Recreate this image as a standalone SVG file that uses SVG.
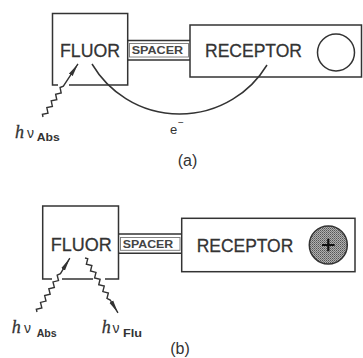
<svg xmlns="http://www.w3.org/2000/svg" width="363" height="358" viewBox="0 0 363 358">
<style>
.box{fill:none;stroke:#333;stroke-width:1.5}
.thin{fill:none;stroke:#777;stroke-width:0.9}
.ln{fill:none;stroke:#333;stroke-width:1.5}
.wave{fill:none;stroke:#333;stroke-width:1.4;stroke-linejoin:miter;marker-end:url(#arr)}
.big{font-family:"Liberation Sans",Arial,sans-serif;font-size:19px;fill:#333;stroke:#333;stroke-width:0.3}
.sp{font-family:"Liberation Sans",Arial,sans-serif;font-size:11px;font-weight:bold;fill:#444}
.lab{font-family:"Liberation Sans",Arial,sans-serif;fill:#333}
.h{font-family:"Liberation Serif","Times New Roman",serif;font-style:italic;font-size:18px;fill:#333;stroke:#333;stroke-width:0.3}
</style>
<defs>
<marker id="arr" markerUnits="userSpaceOnUse" markerWidth="14" markerHeight="6" refX="13" refY="3" orient="auto">
<path d="M0,0.8 L13,3 L0,5.2 Z" fill="#333"/>
</marker>
<pattern id="dots" width="2" height="2" patternUnits="userSpaceOnUse">
<rect width="2" height="2" fill="#b0b0b0"/>
<rect width="1" height="1" fill="#555"/>
<rect x="1" y="1" width="1" height="1" fill="#777"/>
</pattern>
</defs>

<!-- Panel (a) -->
<g id="fluor-a">
<path class="box" d="M58,85 L52.5,85 L52.5,13.5 L127.7,13.5 L127.7,85 L69,85"/>
<text class="big" x="60" y="56.5" textLength="60" lengthAdjust="spacingAndGlyphs">FLUOR</text>
</g>
<g id="spacer-a">
<path class="box" d="M127.7,40.5 H190 M127.7,60 H190"/>
<rect class="thin" x="129.5" y="43.5" width="59" height="13.5"/>
<text class="sp" x="131.7" y="53.5" textLength="51.5" lengthAdjust="spacingAndGlyphs">SPACER</text>
</g>
<g id="receptor-a">
<rect class="box" x="190" y="25" width="171.5" height="52"/>
<text class="big" x="205" y="56.5" textLength="97" lengthAdjust="spacingAndGlyphs">RECEPTOR</text>
<circle class="box" cx="336" cy="52.5" r="18.5"/>
</g>

<!-- Panel (b) -->
<g id="fluor-b">
<path class="box" d="M52,279 L42.7,279 L42.7,206 L118.5,206 L118.5,279 L105,279 M93,279 L62,279"/>
<text class="big" x="50.7" y="251" textLength="61" lengthAdjust="spacingAndGlyphs">FLUOR</text>
</g>
<g id="spacer-b">
<path class="box" d="M118.5,234 H181.7 M118.5,253.3 H181.7"/>
<rect class="thin" x="120.5" y="237.5" width="59.5" height="12.8"/>
<text class="sp" x="122.7" y="248.3" textLength="50.5" lengthAdjust="spacingAndGlyphs">SPACER</text>
</g>
<g id="receptor-b">
<rect class="box" x="181.7" y="218.3" width="173.3" height="53.4"/>
<text class="big" x="196.7" y="251.5" textLength="96.6" lengthAdjust="spacingAndGlyphs">RECEPTOR</text>
<circle cx="328.3" cy="245" r="19" fill="url(#dots)" stroke="#333" stroke-width="1.5"/>
<path d="M322,245 H334.6 M328.3,238.7 V251.3" stroke="#111" stroke-width="2.2" fill="none"/>
</g>

<g id="connectors">
<path class="ln" d="M92,64 A102,102 0 0 0 267,65"/>
<path class="wave" transform="translate(43,117) rotate(-56.6)" d="M0,0 L2,-2 L6,2 L10,-2 L14,2 L18,-2 L22,2 L26,-2 L30,2 L34,-2 L37,0 L63.5,0"/>
<path class="wave" transform="translate(37,312) rotate(-58.6)" d="M0,0 L2,-2 L6,2 L10,-2 L14,2 L18,-2 L22,2 L26,-2 L30,2 L34,-2 L38,2 L42,-2 L45,0 L63,0"/>
<path class="wave" transform="translate(85,258) rotate(59)" d="M0,0 L2,-2 L6,2 L10,-2 L14,2 L18,-2 L22,2 L26,-2 L30,2 L34,-2 L38,2 L42,-2 L46,2 L49,0 L64,0"/>
</g>

<g id="labels">
<text class="h" x="15" y="138">h</text>
<text class="lab" x="27" y="138" font-size="14">ν</text>
<text class="lab" x="36.7" y="141" font-size="11" font-weight="bold" textLength="23" lengthAdjust="spacingAndGlyphs">Abs</text>
<text class="lab" x="170" y="134" font-size="13">e</text>
<text class="lab" x="178" y="126" font-size="10">−</text>
<text class="lab" x="187.5" y="166" font-size="16" text-anchor="middle">(a)</text>

<text class="h" x="11.7" y="333">h</text>
<text class="lab" x="24" y="333" font-size="14">ν</text>
<text class="lab" x="36.7" y="336.5" font-size="11" font-weight="bold" textLength="20" lengthAdjust="spacingAndGlyphs">Abs</text>
<text class="h" x="101.7" y="333">h</text>
<text class="lab" x="112.5" y="333" font-size="14">ν</text>
<text class="lab" x="123" y="337" font-size="11" font-weight="bold" textLength="19" lengthAdjust="spacingAndGlyphs">Flu</text>
<text class="lab" x="180" y="354" font-size="16" text-anchor="middle">(b)</text>
</g>
</svg>
